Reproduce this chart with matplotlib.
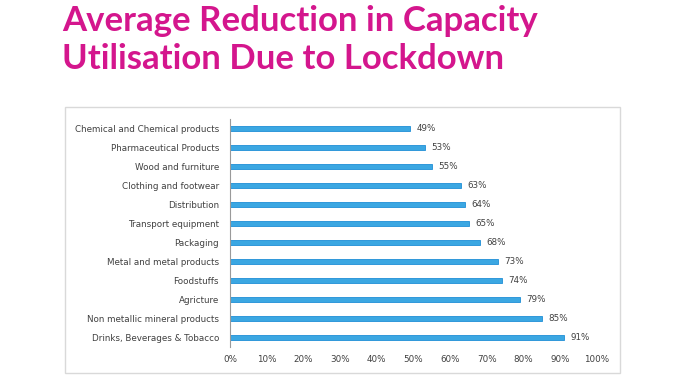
import matplotlib.pyplot as plt
import matplotlib.patches as mpatches
import numpy as np

# data, top to bottom as in the chart
categories = ["Chemical and Chemical products", "Pharmaceutical Products",
              "Wood and furniture", "Clothing and footwear", "Distribution",
              "Transport equipment", "Packaging", "Metal and metal products",
              "Foodstuffs", "Agricture", "Non metallic mineral products",
              "Drinks, Beverages & Tobacco"]
values = [49, 53, 55, 63, 64, 65, 68, 73, 74, 79, 85, 91]
xticks = [0, 10, 20, 30, 40, 50, 60, 70, 80, 90, 100]

title_color = "#d4168d"
bar_color = "#3ba7e2"
edge_color = "#1f8ed6"

fig = plt.figure(figsize=(6.8, 3.8), dpi=100)

# title
fig.text(62 / 680, 1 - 21 / 380, "Average Reduction in Capacity",
         fontsize=25, fontweight="bold", family="Lato", color=title_color,
         ha="left", va="center")
fig.text(62 / 680, 1 - 59 / 380, "Utilisation Due to Lockdown",
         fontsize=25, fontweight="bold", family="Lato", color=title_color,
         ha="left", va="center")

# chart frame
frame = mpatches.Rectangle((65 / 680, 1 - 373 / 380), 555 / 680, 266 / 380,
                           transform=fig.transFigure, fill=False,
                           edgecolor="#d9d9d9", linewidth=1)
fig.add_artist(frame)

ax = fig.add_axes([230 / 680, 1 - 347 / 380, 367 / 680, 228 / 380])
y = np.arange(len(categories))
ax.barh(y, values, height=0.28, color=bar_color, edgecolor=edge_color, linewidth=0.6)
for yi, v in zip(y, values):
    ax.text(v + 1.8, yi, f"{v}%", va="center", ha="left", fontsize=6.3,
            color="#404040")

ax.set_yticks(y)
ax.set_yticklabels(categories, fontsize=6.3, color="#404040")
ax.set_ylim(len(categories) - 0.5, -0.5)
ax.set_xlim(0, 100)
ax.set_xticks(xticks)
ax.set_xticklabels([f"{t}%" for t in xticks], fontsize=6.3, color="#404040")
ax.tick_params(axis="both", length=0)
ax.tick_params(axis="y", pad=8)
ax.tick_params(axis="x", pad=6)
for side in ["top", "right", "bottom"]:
    ax.spines[side].set_visible(False)
ax.spines["left"].set_color("#9a9a9a")
ax.spines["left"].set_linewidth(0.8)

plt.savefig("out.png", dpi=100)
